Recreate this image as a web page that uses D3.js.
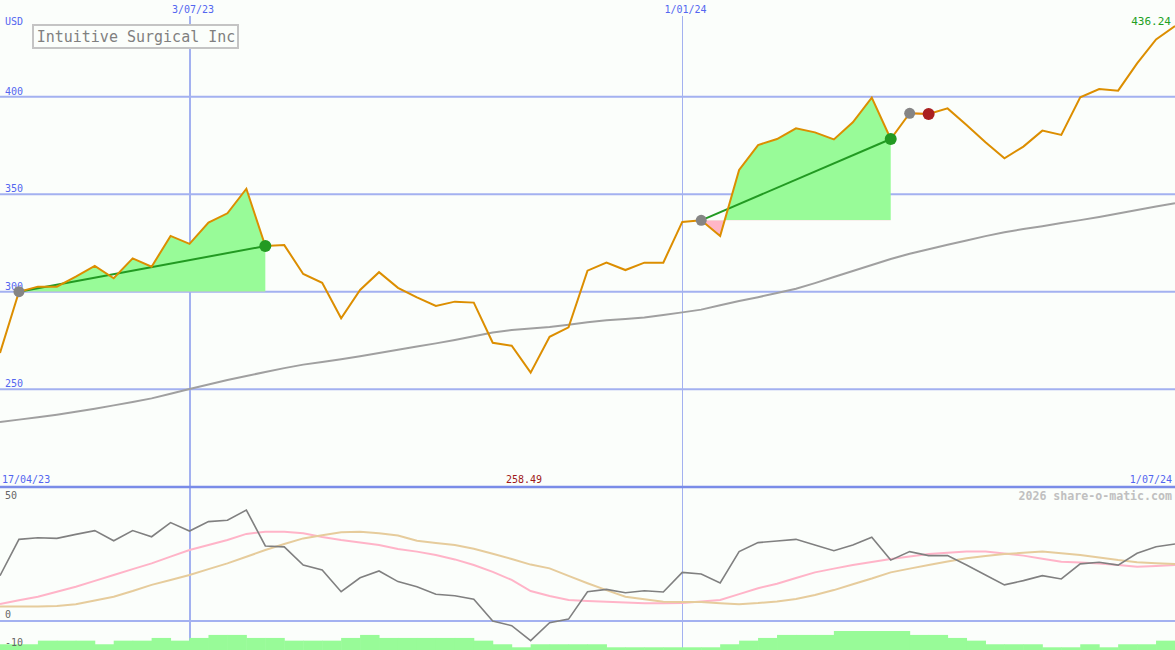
<!DOCTYPE html>
<html><head><meta charset="utf-8">
<script src="https://cdn.jsdelivr.net/npm/d3@7"></script>
<style>html,body{margin:0;padding:0;background:#fbfefb;}svg{display:block;}</style>
</head><body><svg id="c" width="1175" height="650"></svg>
<script>
const dates = ["2023-04-24","2023-05-01","2023-05-08","2023-05-15","2023-05-22","2023-05-29","2023-06-05","2023-06-12","2023-06-19","2023-06-26",
"2023-07-03","2023-07-10","2023-07-17","2023-07-24","2023-07-31","2023-08-07","2023-08-14","2023-08-21","2023-08-28","2023-09-04",
"2023-09-11","2023-09-18","2023-09-25","2023-10-02","2023-10-09","2023-10-16","2023-10-23","2023-10-30","2023-11-06","2023-11-13",
"2023-11-20","2023-11-27","2023-12-04","2023-12-11","2023-12-18","2023-12-25","2024-01-01","2024-01-08","2024-01-15","2024-01-22",
"2024-01-29","2024-02-05","2024-02-12","2024-02-19","2024-02-26","2024-03-04","2024-03-11","2024-03-18","2024-03-25","2024-04-01",
"2024-04-08","2024-04-15","2024-04-22","2024-04-29","2024-05-06","2024-05-13","2024-05-20","2024-05-27","2024-06-03","2024-06-10",
"2024-06-17","2024-06-24","2024-07-01"];
const price = [268.6,300.0,302.6,302.6,307.7,313.2,306.9,317.1,312.8,328.6,324.5,335.4,340.2,352.8,323.4,323.9,309.1,304.6,286.4,300.9,
310.0,302.0,297.1,292.7,294.9,294.4,273.8,272.3,258.49,276.9,281.7,310.8,314.9,311.1,314.9,314.9,335.8,336.6,328.6,362.4,
375.2,378.3,383.8,381.7,378.1,386.9,399.5,378.3,391.5,391.1,394.0,385.5,376.6,368.4,374.4,382.6,380.4,399.7,403.9,403.1,
417.1,429.4,436.24];
const movingAvg = [233.2,234.4,235.6,236.9,238.4,240.0,241.7,243.4,245.3,247.7,250.1,252.4,254.7,256.8,258.8,260.8,262.6,264.0,265.4,266.9,
268.6,270.2,271.9,273.5,275.2,277.1,279.1,280.3,281.1,281.9,283.1,284.3,285.3,286.0,286.8,288.0,289.4,290.8,293.0,295.2,
297.2,299.3,301.5,304.4,307.5,310.6,313.7,316.8,319.5,321.8,324.1,326.3,328.5,330.5,332.1,333.6,335.2,336.7,338.3,340.1,
341.9,343.7,345.4];
const oscillator = [19.2,34.6,35.3,35.0,36.7,38.3,34.0,38.3,35.7,41.7,38.1,42.1,42.7,47.0,31.8,31.4,23.7,21.6,12.4,18.3,
21.2,16.7,14.5,11.3,10.7,9.2,0.0,-2.0,-8.3,-0.7,0.8,12.4,13.4,12.0,12.8,12.3,20.6,19.9,16.1,29.4,
33.2,33.9,34.6,32.2,29.8,32.2,35.5,25.8,29.4,27.7,27.7,23.7,19.5,15.3,17.1,19.2,17.8,24.2,24.9,23.7,
28.7,31.5,32.6];
const oscFast = [7.2,8.8,10.3,12.4,14.5,17.0,19.5,22.0,24.4,27.3,30.1,32.2,34.3,36.9,37.8,37.8,37.2,35.6,34.3,33.3,
32.2,30.5,29.4,28.0,26.1,23.7,20.8,17.4,12.7,10.6,8.9,8.5,8.2,7.8,7.5,7.5,7.6,8.3,8.9,11.4,
13.9,15.8,18.2,20.6,22.2,23.7,25.0,26.3,27.3,28.4,28.9,29.4,29.4,28.6,27.7,26.4,25.1,24.8,24.4,23.7,
23.0,23.3,23.7];
const oscSlow = [6.1,6.1,6.1,6.4,7.1,8.7,10.3,12.7,15.3,17.4,19.5,22.0,24.4,27.2,30.1,32.6,35.0,36.3,37.6,37.8,
37.2,36.2,34.0,33.1,32.2,30.6,28.5,26.3,23.9,22.3,19.1,16.0,13.1,10.3,9.2,8.2,8.1,8.0,7.5,7.1,
7.6,8.3,9.3,11.0,13.1,15.6,18.0,20.6,22.2,23.7,25.2,26.6,27.5,28.4,28.9,29.4,28.7,28.0,26.9,25.8,
24.9,24.5,24.2];
const volume = [1.9,1.9,3.1,3.1,3.1,1.9,3.1,3.1,4.0,3.1,4.0,5.0,5.0,4.0,4.0,3.1,3.1,3.1,4.0,5.0,
4.0,4.0,4.0,4.0,4.0,3.1,1.9,0.9,1.9,1.9,1.9,1.9,0.9,0.9,0.9,0.9,0.9,0.9,1.9,3.1,
4.0,5.0,5.0,5.0,6.3,6.3,6.3,6.3,5.0,5.0,4.0,3.1,1.9,1.9,1.9,0.9,0.9,1.9,0.9,1.9,
1.9,3.1,3.1];
// trades: [start index, end index]
const tradeStart = [1, 37, 48];
const tradeEnd = [14, 47, 49];
const priceTicks = [400, 350, 300, 250];
const oscTicks = [50, 0, -10];
const dateGridLabels = ["3/07/23", "1/01/24"];
const dateGridDates = ["2023-07-03", "2024-01-01"];
const title = "Intuitive Surgical Inc";
const currency = "USD";
const rangeStartLabel = "17/04/23";
const rangeEndLabel = "1/07/24";
const lastLabel = "436.24";
const minLabel = "258.49";
const credit = "2026 share-o-matic.com";

const W = 1175, H = 650;
const parse = d3.timeParse("%Y-%m-%d");
const D = dates.map(parse);
const svg = d3.select("#c");
const font = "'DejaVu Sans Mono', monospace";

const x = d3.scaleTime().domain([D[0], D[D.length-1]]).range([0, W]);
const y = d3.scaleLinear().domain([250, 400]).range([389.2, 96.7]);
const yo = d3.scaleLinear().domain([0, 50]).range([621, 503]);
const yv = d3.scaleLinear().domain([0, 6.3]).range([650, 631]);

const gridCol = "#a3b1f0";
// horizontal price grid
svg.append("g").selectAll("line").data(priceTicks).join("line")
  .attr("x1", 0).attr("x2", W).attr("y1", d => y(d)).attr("y2", d => y(d))
  .attr("stroke", gridCol).attr("stroke-width", 2);
svg.append("g").selectAll("text").data(priceTicks).join("text")
  .attr("x", 5).attr("y", d => y(d) - 2).text(d => d)
  .attr("font-family", font).attr("font-size", 10).attr("fill", "#5366f0");
// oscillator zero grid
svg.append("line").attr("x1", 0).attr("x2", W).attr("y1", yo(0)).attr("y2", yo(0))
  .attr("stroke", gridCol).attr("stroke-width", 2);
// vertical date grid
dateGridDates.forEach((d, i) => {
  const xx = Math.round(x(parse(d))) + (i === 0 ? 0 : 0.5);
  svg.append("line").attr("x1", xx).attr("x2", xx).attr("y1", 16).attr("y2", H)
    .attr("stroke", gridCol).attr("stroke-width", i === 0 ? 2 : 1);
  svg.append("text").attr("x", xx + 3).attr("y", 13).attr("text-anchor", "middle")
    .text(dateGridLabels[i]).attr("font-family", font).attr("font-size", 10).attr("fill", "#5366f0");
});
// panel separator
svg.append("line").attr("x1", 0).attr("x2", W).attr("y1", 487).attr("y2", 487)
  .attr("stroke", "#7a8ce8").attr("stroke-width", 2.5);

// volume bars
const step = x(D[1]) - x(D[0]);
svg.append("g").selectAll("rect").data(volume).join("rect")
  .attr("x", (d, i) => x(D[i])).attr("width", step + 0.5)
  .attr("y", d => yv(d)).attr("height", d => yv(0) - yv(d))
  .attr("fill", "#98fb98");

// moving average
svg.append("path").datum(movingAvg)
  .attr("d", d3.line().x((d, i) => x(D[i])).y(d => y(d)))
  .attr("fill", "none").attr("stroke", "#a0a0a0").attr("stroke-width", 2);

// trade fills
const defs = svg.append("defs");
tradeStart.forEach((s, k) => {
  const e = tradeEnd[k];
  const base = price[s];
  const yb = y(base);
  const idx = d3.range(s, e + 1);
  const area = d3.area().x(i => x(D[i])).y0(yb).y1(i => y(price[i]));
  defs.append("clipPath").attr("id", "up" + k).append("rect")
    .attr("x", 0).attr("y", 0).attr("width", W).attr("height", yb);
  defs.append("clipPath").attr("id", "dn" + k).append("rect")
    .attr("x", 0).attr("y", yb).attr("width", W).attr("height", 487 - yb);
  svg.append("path").datum(idx).attr("d", area).attr("fill", "#98fb98").attr("clip-path", `url(#up${k})`);
  svg.append("path").datum(idx).attr("d", area).attr("fill", "#ffb6c6").attr("clip-path", `url(#dn${k})`);
});
// trade lines
tradeStart.forEach((s, k) => {
  const e = tradeEnd[k];
  const win = price[e] >= price[s];
  svg.append("line").attr("x1", x(D[s])).attr("y1", y(price[s])).attr("x2", x(D[e])).attr("y2", y(price[e]))
    .attr("stroke", win ? "#229a22" : "#ffb0c0").attr("stroke-width", 2);
});

// price line
svg.append("path").datum(price)
  .attr("d", d3.line().x((d, i) => x(D[i])).y(d => y(d)))
  .attr("fill", "none").attr("stroke", "#dc8e00").attr("stroke-width", 2);

// markers
tradeStart.forEach((s, k) => {
  const e = tradeEnd[k];
  const win = price[e] >= price[s];
  svg.append("circle").attr("cx", x(D[s])).attr("cy", y(price[s])).attr("r", 5.5).attr("fill", "#858585");
  svg.append("circle").attr("cx", x(D[e])).attr("cy", y(price[e])).attr("r", 6).attr("fill", win ? "#229a22" : "#aa2020");
});

// oscillator lines
const lo = d3.line().x((d, i) => x(D[i])).y(d => yo(d));
svg.append("path").datum(oscFast).attr("d", lo).attr("fill", "none").attr("stroke", "#ffb4c8").attr("stroke-width", 2);
svg.append("path").datum(oscSlow).attr("d", lo).attr("fill", "none").attr("stroke", "#e6cc9c").attr("stroke-width", 2);
svg.append("path").datum(oscillator).attr("d", lo).attr("fill", "none").attr("stroke", "#808080").attr("stroke-width", 1.6);

// oscillator labels
const oscLabelY = {"50": 499, "0": 618, "-10": 646};
svg.append("g").selectAll("text").data(oscTicks).join("text")
  .attr("x", 5).attr("y", d => oscLabelY[d]).text(d => d)
  .attr("font-family", font).attr("font-size", 10).attr("fill", "#666");

// texts
const txt = (t, xx, yy, anchor, col, size, weight) => svg.append("text").attr("x", xx).attr("y", yy)
  .attr("text-anchor", anchor).attr("fill", col).attr("font-size", size).attr("font-family", font)
  .attr("font-weight", weight || "normal").text(t);
txt(currency, 5, 25, "start", "#5366f0", 10);
txt(lastLabel, 1171, 25, "end", "#22a022", 11);
txt(rangeStartLabel, 2, 483, "start", "#5366f0", 10);
txt(minLabel, 524, 483, "middle", "#a01818", 10);
txt(rangeEndLabel, 1172, 483, "end", "#5366f0", 10);
txt(credit, 1172, 500, "end", "#c0c0c0", 11.6, "bold");

// title box
svg.append("rect").attr("x", 33).attr("y", 25).attr("width", 205).attr("height", 23)
  .attr("fill", "#fbfefb").attr("stroke", "#c4c4c4").attr("stroke-width", 2);
txt(title, 136, 42, "middle", "#808080", 15);
</script></body></html>
